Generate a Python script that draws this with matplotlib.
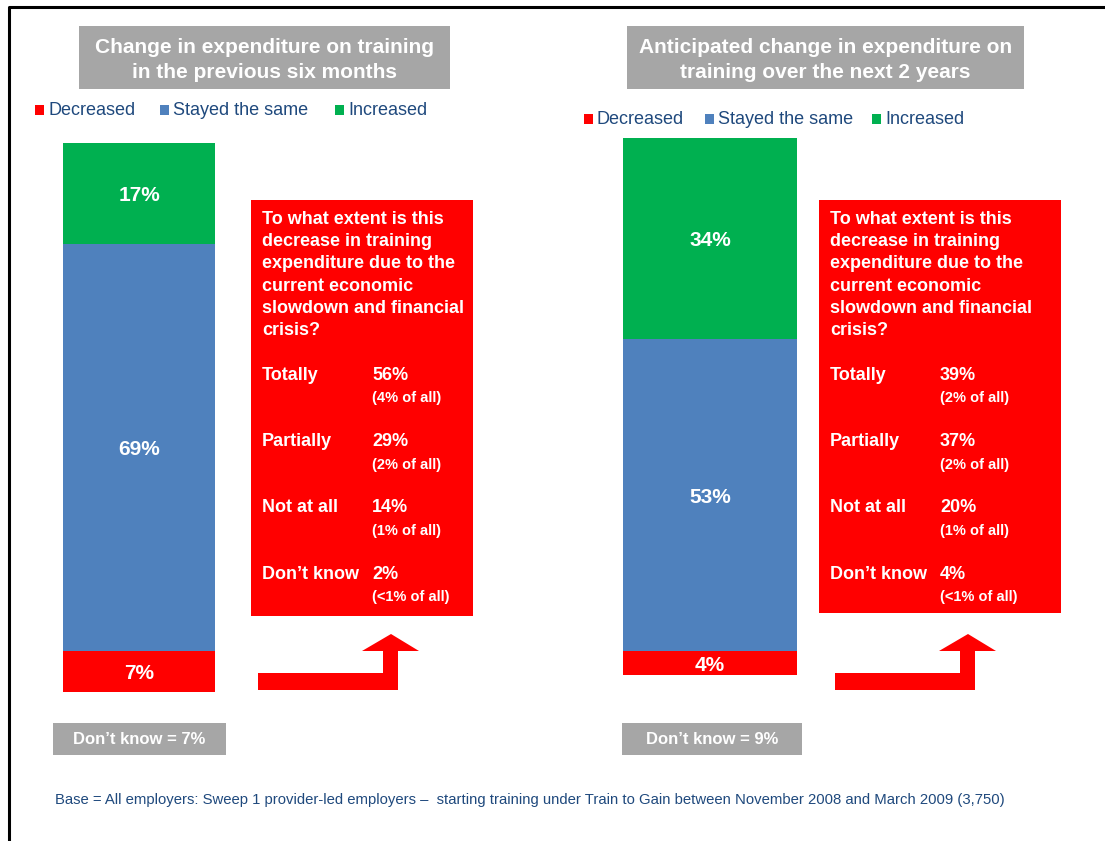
import matplotlib.pyplot as plt
from matplotlib.patches import Rectangle, Polygon

plt.rcParams['font.family'] = ['Liberation Sans', 'DejaVu Sans']

# ---- data ----
categories = ['Decreased', 'Stayed the same', 'Increased']
cat_colors = ['#FF0000', '#4F81BD', '#00B050']

prev_values = [7, 69, 17]
next_values = [4, 53, 34]
prev_dont_know = 7
next_dont_know = 9

reasons = ['Totally', 'Partially', 'Not at all', 'Don\u2019t know']
prev_reason_pct = [56, 29, 14, 2]
prev_reason_all = ['4%', '2%', '1%', '<1%']
next_reason_pct = [39, 37, 20, 4]
next_reason_all = ['2%', '2%', '1%', '<1%']

titles = ['Change in expenditure on training\nin the previous six months',
          'Anticipated change in expenditure on\ntraining over the next 2 years']
question = ('To what extent is this\ndecrease in training\nexpenditure due to the\n'
            'current economic\nslowdown and financial\ncrisis?')
footnote = ('Base = All employers: Sweep 1 provider-led employers \u2013  starting training under '
            'Train to Gain between November 2008 and March 2009 (3,750)')

W, H = 1105, 841
GREY = '#A6A6A6'
NAVY = '#1F497D'
PX_PER_PCT = 5.9

fig = plt.figure(figsize=(W / 100, H / 100), dpi=100)
ax = fig.add_axes([0, 0, 1, 1])
ax.set_xlim(0, W)
ax.set_ylim(H, 0)
ax.axis('off')

# slide frame
ax.plot([9, 9, W], [H, 7, 7], color='black', lw=2.2, solid_capstyle='butt')


def stacked_bar(x0, width, base, values):
    bax = fig.add_axes([x0 / W, (H - base) / H, width / W, 100 * PX_PER_PCT / H])
    bax.set_xlim(-0.5, 0.5)
    bax.set_ylim(0, 100)
    bax.axis('off')
    bottom = 0
    for v, c in zip(values, cat_colors):
        bax.bar(0, v, width=1.0, bottom=bottom, color=c)
        bax.text(0, bottom + v / 2, f'{v}%', ha='center', va='center_baseline',
                 color='white', fontsize=15, fontweight='bold')
        bottom += v


def legend_row(x_positions, y):
    for x, lab, c in zip(x_positions, categories, cat_colors):
        ax.add_patch(Rectangle((x, y - 5), 9, 10, color=c, lw=0))
        ax.text(x + 13, y, lab, ha='left', va='center', color=NAVY, fontsize=13)


def title_box(x0, x1, text):
    ax.add_patch(Rectangle((x0, 26), x1 - x0, 63, color=GREY, lw=0))
    ax.text((x0 + x1) / 2, 60, text, ha='center', va='center', color='white',
            fontsize=15, fontweight='bold', linespacing=1.42)


def reason_box(x0, x1, y1, val_x, pcts, shares):
    ax.add_patch(Rectangle((x0, 200), x1 - x0, y1 - 200, color='#FF0000', lw=0))
    ax.text(x0 + 11, 211, question, ha='left', va='top', color='white',
            fontsize=13, fontweight='bold', linespacing=1.4)
    for i, (r, p, s) in enumerate(zip(reasons, pcts, shares)):
        y = 375 + i * 66.5
        ax.text(x0 + 11, y, r, ha='left', va='center', color='white',
                fontsize=13, fontweight='bold')
        ax.text(val_x, y, f'{p}%', ha='left', va='center', color='white',
                fontsize=13, fontweight='bold')
        ax.text(val_x, y + 23, f'({s} of all)', ha='left', va='center',
                color='white', fontsize=10.5, fontweight='bold')


def bent_arrow(x0):
    # horizontal shaft, vertical shaft, head
    pts = [(x0, 673), (x0 + 125, 673), (x0 + 125, 651), (x0 + 104, 651),
           (x0 + 133, 634), (x0 + 161, 651), (x0 + 140, 651), (x0 + 140, 690),
           (x0, 690)]
    ax.add_patch(Polygon(pts, closed=True, color='#FF0000', lw=0))


def dont_know_box(x0, x1, val):
    ax.add_patch(Rectangle((x0, 723), x1 - x0, 32, color=GREY, lw=0))
    ax.text((x0 + x1) / 2, 740, f'Don\u2019t know = {val}%', ha='center', va='center',
            color='white', fontsize=12, fontweight='bold')


# left panel
title_box(79, 450, titles[0])
legend_row([35, 160, 335], 110)
stacked_bar(63, 152, 692, prev_values)
reason_box(251, 473, 616, 372, prev_reason_pct, prev_reason_all)
bent_arrow(258)
dont_know_box(53, 226, prev_dont_know)

# right panel
title_box(627, 1024, titles[1])
legend_row([584, 705, 872], 119)
stacked_bar(623, 174, 675, next_values)
reason_box(819, 1061, 613, 940, next_reason_pct, next_reason_all)
bent_arrow(835)
dont_know_box(622, 802, next_dont_know)

ax.text(55, 800, footnote, ha='left', va='center', color=NAVY, fontsize=10.7)

fig.savefig('out.png', dpi=100)
